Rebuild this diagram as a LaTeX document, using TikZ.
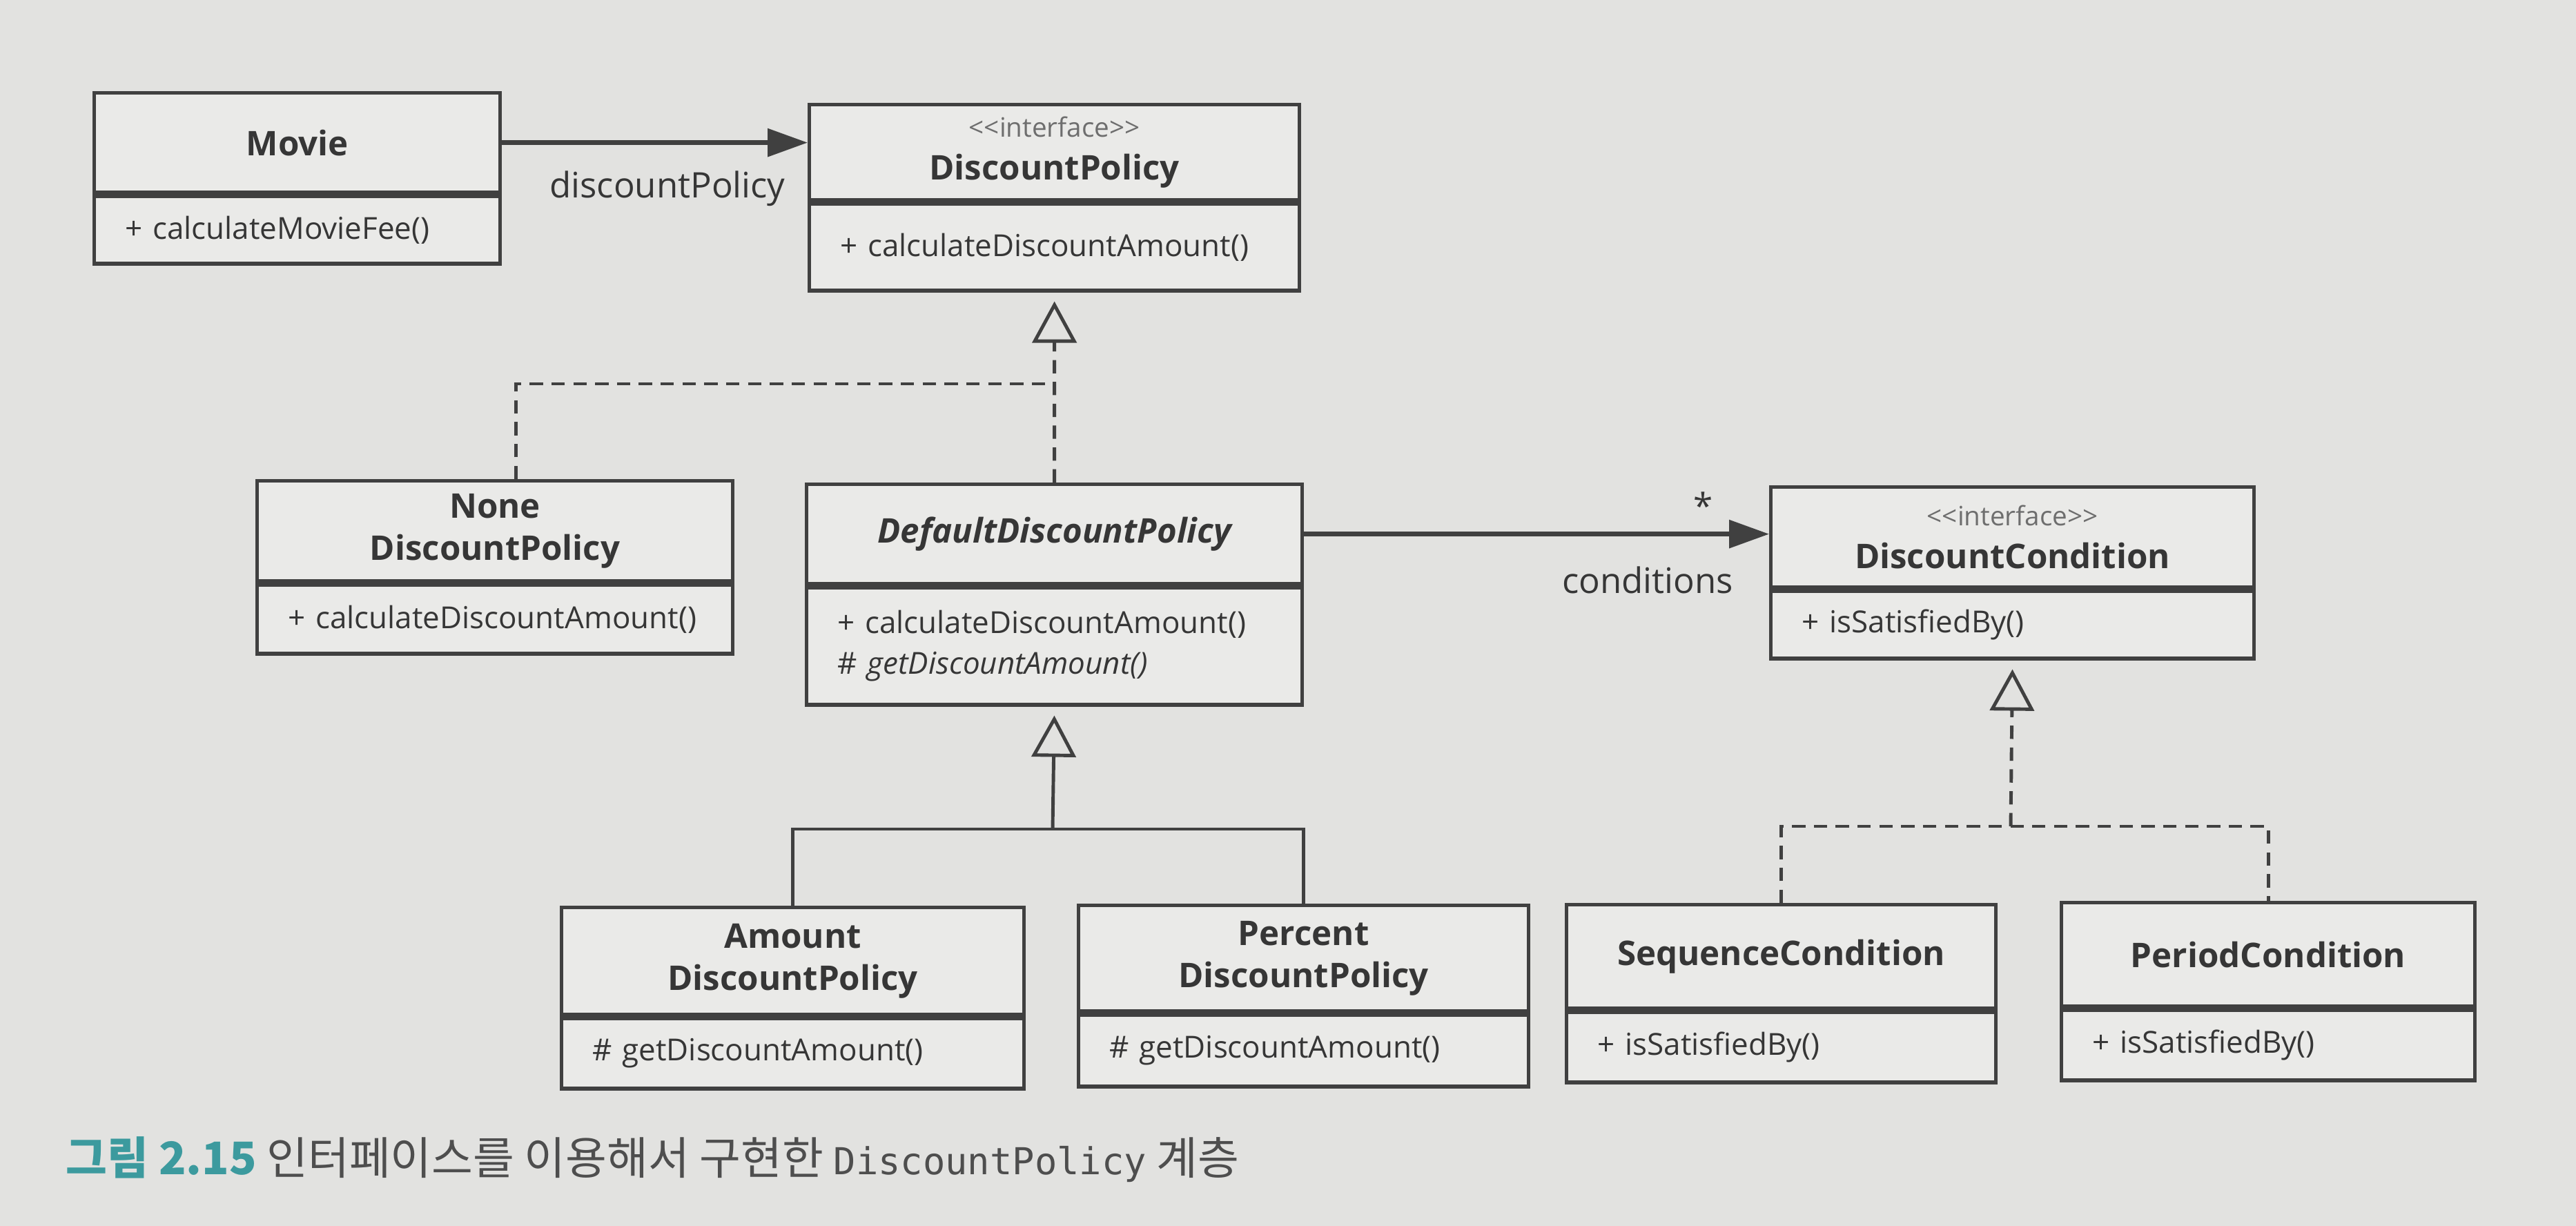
\documentclass[tikz,border=0pt]{standalone}
\usepackage{fontspec}
\setmainfont{Open Sans}
\newfontfamily\hangulfont{Noto Sans CJK KR}
\newfontfamily\codefont{DejaVu Sans Mono}
\usetikzlibrary{arrows.meta,calc,positioning}
\definecolor{umlpaper}{HTML}{E2E2E0}
\definecolor{umlfill}{HTML}{EAEAE8}
\definecolor{umlline}{HTML}{404040}
\definecolor{umlink}{HTML}{363636}
\definecolor{umlgray}{HTML}{6E6E6E}
\definecolor{capteal}{HTML}{3C9A9E}
\definecolor{capgray}{HTML}{4E4E4E}

\begin{document}
\begin{tikzpicture}[
  font=\rmfamily,
  classname/.style={
    draw=umlline,
    fill=umlfill,
    text=umlink,
    line width=1.5pt,
    align=center,
    font=\rmfamily\bfseries\fontsize{14}{17.5}\selectfont,
    inner sep=0pt,
    anchor=north west
  },
  classops/.style={
    draw=umlline,
    fill=umlfill,
    text=umlink,
    line width=1.5pt,
    align=left,
    font=\rmfamily\fontsize{12.5}{16.7}\selectfont,
    inner xsep=0.45cm,
    inner ysep=0pt
  },
  rolelabel/.style={
    font=\rmfamily\fontsize{14.5}{17}\selectfont,
    text=umlink,
    inner sep=1pt
  },
  assoc/.style={
    draw=umlline,
    line width=1.8pt,
    -{Triangle[length=5.8mm,width=4mm]}
  },
  realize/.style={
    draw=umlline,
    line width=1.4pt,
    dash pattern=on 5.5pt off 3.5pt
  },
  inherit/.style={
    draw=umlline,
    line width=1.4pt
  },
  hollowtip/.style={
    -{Triangle[open,length=6mm,width=6.4mm,fill=umlpaper]},
    shorten >=1.3mm
  }
]

\fill[umlpaper] (0,0) rectangle (37.32,-17.76);

\node[classname,minimum width=5.88cm,minimum height=1.44cm] (movie) at (1.34,-1.32) {Movie};
\node[classops,text width=4.98cm,minimum height=0.98cm,below=0pt of movie] (movieops)
  {+ calculateMovieFee()};

\node[classname,minimum width=7.10cm,minimum height=1.38cm] (dpolicy) at (11.70,-1.49)
  {{\mdseries\fontsize{11}{13}\selectfont\color{umlgray}<{}<interface>{}>}\\DiscountPolicy};
\node[classops,text width=6.20cm,minimum height=1.26cm,below=0pt of dpolicy] (dpolicyops)
  {+ calculateDiscountAmount()};

\node[classname,minimum width=6.89cm,minimum height=1.45cm] (nonepolicy) at (3.70,-6.94)
  {None\\DiscountPolicy};
\node[classops,text width=5.99cm,minimum height=1.00cm,below=0pt of nonepolicy] (nonepolicyops)
  {+ calculateDiscountAmount()};

\node[classname,minimum width=7.18cm,minimum height=1.44cm] (defpolicy) at (11.66,-6.99)
  {\itshape DefaultDiscountPolicy};
\node[classops,text width=6.28cm,minimum height=1.70cm,below=0pt of defpolicy] (defpolicyops)
  {+ calculateDiscountAmount()\\\# \textit{getDiscountAmount()}};

\node[classname,minimum width=7.00cm,minimum height=1.45cm] (dcondition) at (25.63,-7.03)
  {{\mdseries\fontsize{11}{13}\selectfont\color{umlgray}<{}<interface>{}>}\\DiscountCondition};
\node[classops,text width=6.10cm,minimum height=0.98cm,below=0pt of dcondition] (dconditionops)
  {+ isSatisfiedBy()};

\node[classname,minimum width=6.70cm,minimum height=1.55cm] (amountpolicy) at (8.11,-13.12)
  {Amount\\DiscountPolicy};
\node[classops,text width=5.80cm,minimum height=1.02cm,below=0pt of amountpolicy] (amountpolicyops)
  {\# getDiscountAmount()};

\node[classname,minimum width=6.52cm,minimum height=1.53cm] (percentpolicy) at (15.60,-13.09)
  {Percent\\DiscountPolicy};
\node[classops,text width=5.62cm,minimum height=1.04cm,below=0pt of percentpolicy] (percentpolicyops)
  {\# getDiscountAmount()};

\node[classname,minimum width=6.22cm,minimum height=1.50cm] (seqcondition) at (22.67,-13.08)
  {SequenceCondition};
\node[classops,text width=5.32cm,minimum height=1.02cm,below=0pt of seqcondition] (seqconditionops)
  {+ isSatisfiedBy()};

\node[classname,minimum width=5.99cm,minimum height=1.50cm] (periodcondition) at (29.84,-13.05)
  {PeriodCondition};
\node[classops,text width=5.09cm,minimum height=1.02cm,below=0pt of periodcondition] (periodconditionops)
  {+ isSatisfiedBy()};

% associations
\draw[assoc] (movie.east) -- (movie.east -| dpolicy.west);
\node[rolelabel] (dplabel) at (9.67,-2.73) {discountPolicy};

\draw[assoc] (defpolicy.east) -- (defpolicy.east -| dcondition.west);
\node[rolelabel] (multlabel) at (24.68,-7.32) {*};
\node[rolelabel] (condlabel) at (23.87,-8.40) {conditions};

% realization of DiscountPolicy
\coordinate (dpjoin) at (15.25,-5.56);
\draw[realize,hollowtip] (defpolicy.north) -- (dpolicyops.south);
\draw[realize] ([xshift=0.3cm]nonepolicy.north) |- (dpjoin);

% generalization of DefaultDiscountPolicy
\coordinate (genjoin) at (15.25,-12.01);
\draw[inherit,hollowtip] (genjoin) -- (defpolicyops.south);
\draw[inherit] (amountpolicy.north) |- (genjoin) -| (percentpolicy.north);

% realization of DiscountCondition
\coordinate (dcjoin) at (29.13,-11.97);
\draw[realize,hollowtip] (dcjoin) -- (dconditionops.south);
\draw[realize] (seqcondition.north) |- (dcjoin) -| (periodcondition.north);

\node[anchor=west,text=capgray,font=\hangulfont\fontsize{18.5}{22}\selectfont,inner sep=0pt] (caption)
  at (0.95,-16.80)
  {{\bfseries\color{capteal}그림 2.15} 인터페이스를 이용해서 구현한 {\codefont\fontsize{15.3}{22}\selectfont DiscountPolicy} 계층};

\end{tikzpicture}
\end{document}
